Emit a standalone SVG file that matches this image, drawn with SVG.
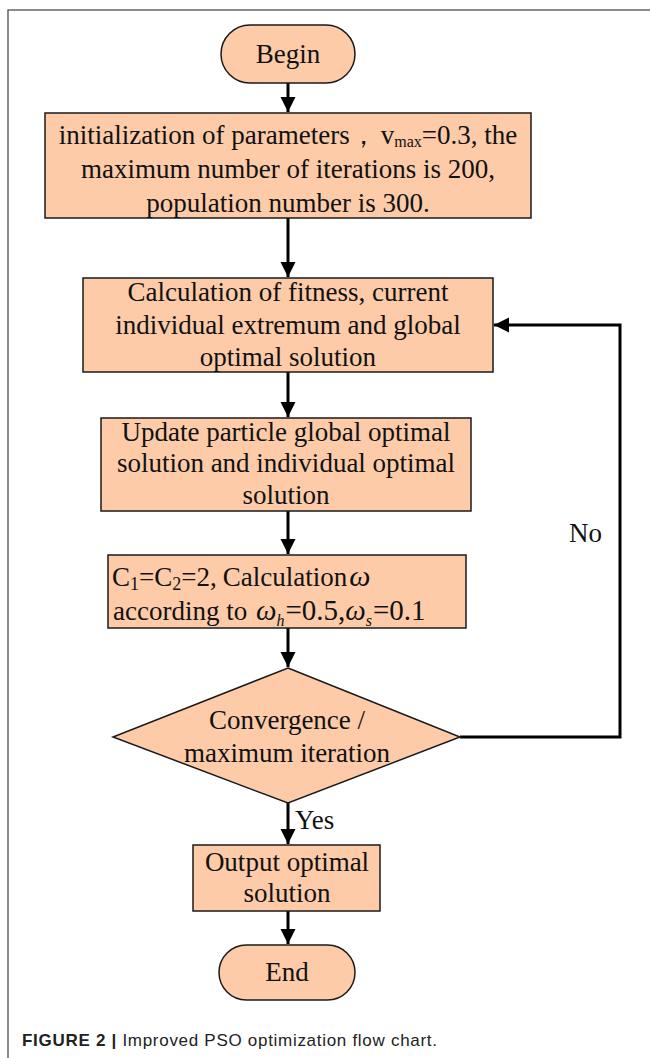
<svg xmlns="http://www.w3.org/2000/svg" width="650" height="1058" viewBox="0 0 650 1058">
<style>
.box{fill:#FDCBA8;stroke:#1a1a1a;stroke-width:1.5}
.t{font-family:"Liberation Serif","Times New Roman",serif;font-size:27px;fill:#111;text-anchor:middle}
.tl{font-family:"Liberation Serif","Times New Roman",serif;font-size:27px;fill:#111}
.c{stroke:#000;stroke-width:3;fill:none}
.cap{font-family:"Liberation Sans",Arial,sans-serif;font-size:17px;fill:#222}
</style>
<defs>
<marker id="ah" viewBox="0 0 10 10" refX="10" refY="5" markerWidth="5" markerHeight="5.5" orient="auto" markerUnits="strokeWidth">
<path d="M0,0 L10,5 L0,10 z" fill="#000"/>
</marker>
</defs>
<rect width="650" height="1058" fill="#fff"/>
<path d="M8,1058 V10 H650" fill="none" stroke="#666" stroke-width="1.5"/>

<g id="connectors">
<path class="c" d="M288,83 V112" marker-end="url(#ah)"/>
<path class="c" d="M288,218 V277" marker-end="url(#ah)"/>
<path class="c" d="M288,372 V417" marker-end="url(#ah)"/>
<path class="c" d="M288,511 V554" marker-end="url(#ah)"/>
<path class="c" d="M288,628 V667" marker-end="url(#ah)"/>
<path class="c" d="M288,803 V844" marker-end="url(#ah)"/>
<path class="c" d="M288,911 V944" marker-end="url(#ah)"/>
<path class="c" d="M460,737 H620 V325 H494" marker-end="url(#ah)"/>
<text class="tl" x="569" y="542">No</text>
<text class="tl" x="295" y="829">Yes</text>
</g>

<g id="begin">
<rect class="box" x="221" y="25" width="134" height="58" rx="29"/>
<text class="t" x="288" y="63">Begin</text>
</g>

<g id="init">
<rect class="box" x="45" y="113" width="486" height="105"/>
<text class="t" x="288" y="144">initialization of parameters，<tspan dx="4">v</tspan><tspan font-size="16" dy="3">max</tspan><tspan dy="-3">=0.3, the</tspan></text>
<text class="t" x="288" y="178">maximum number of iterations is 200,</text>
<text class="t" x="288" y="212">population number is 300.</text>
</g>

<g id="fitness">
<rect class="box" x="83" y="278" width="410" height="94"/>
<text class="t" x="288" y="301">Calculation of fitness, current</text>
<text class="t" x="288" y="334">individual extremum and global</text>
<text class="t" x="288" y="366">optimal solution</text>
</g>

<g id="update">
<rect class="box" x="101" y="418" width="370" height="93"/>
<text class="t" x="286" y="441">Update particle global optimal</text>
<text class="t" x="286" y="472">solution and individual optimal</text>
<text class="t" x="286" y="504">solution</text>
</g>

<g id="omega">
<rect class="box" x="108" y="555" width="358" height="73"/>
<text class="tl" x="112" y="586" font-size="29">C<tspan font-size="18" dy="4">1</tspan><tspan dy="-4">=C</tspan><tspan font-size="18" dy="4">2</tspan><tspan dy="-4">=2,</tspan><tspan font-size="27" dx="6">Calculation</tspan><tspan font-style="italic" font-size="30" dx="2">ω</tspan></text>
<text class="tl" x="113" y="620">according to <tspan font-style="italic" font-size="29" dx="2">ω</tspan><tspan font-style="italic" font-size="16" dy="6">h</tspan><tspan font-size="29" dy="-6" dx="1">=0.5,</tspan><tspan font-style="italic" font-size="29">ω</tspan><tspan font-style="italic" font-size="16" dy="6">s</tspan><tspan font-size="29" dy="-6" dx="1">=0.1</tspan></text>
</g>

<g id="decision">
<polygon class="box" points="288,668 460,737 288,803 113,737"/>
<text class="t" x="287" y="729">Convergence /</text>
<text class="t" x="287" y="762">maximum iteration</text>
</g>

<g id="output">
<rect class="box" x="193" y="845" width="187" height="66"/>
<text class="t" x="287" y="871">Output optimal</text>
<text class="t" x="287" y="902">solution</text>
</g>

<g id="end">
<rect class="box" x="219" y="945" width="136" height="55" rx="27.5"/>
<text class="t" x="287" y="981">End</text>
</g>

<text class="cap" x="22" y="1046" textLength="415" lengthAdjust="spacing"><tspan font-weight="bold">FIGURE 2 |</tspan> Improved PSO optimization flow chart.</text>
</svg>
